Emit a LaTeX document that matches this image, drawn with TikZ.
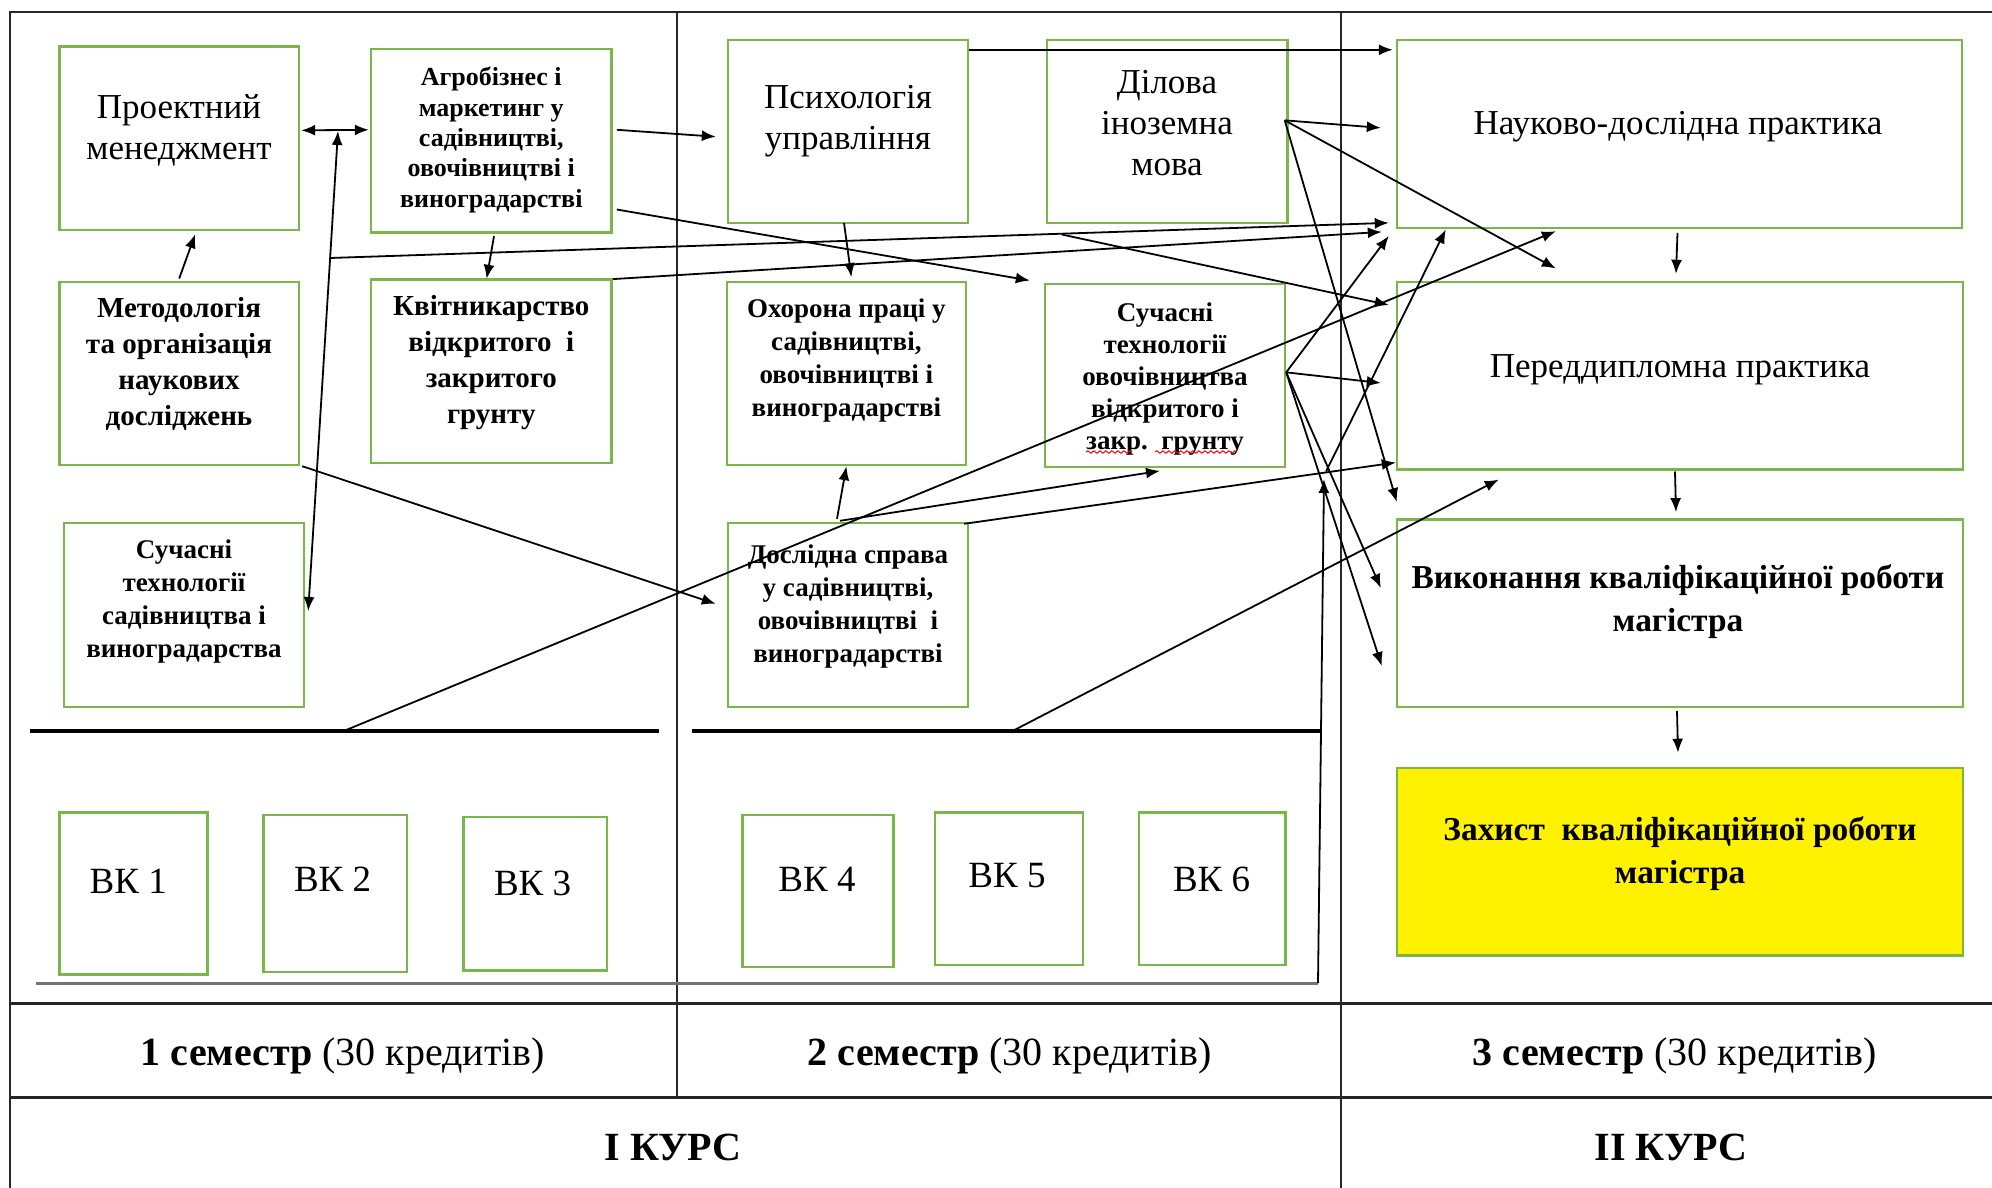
\documentclass[tikz,border=0pt]{standalone}
\usepackage{fontspec}
\setmainfont{Liberation Serif}
\usetikzlibrary{arrows.meta,calc,fit,decorations.pathmorphing}
\definecolor{boxgreen}{RGB}{122,182,72}
\tikzset{
  frame/.style={line width=1pt, black!85},
  rule/.style={line width=2pt, black},
  box/.style={draw=boxgreen, line width=1.2pt, inner sep=0pt},
  txt/.style={align=center, inner sep=0pt},
  reg/.style={font={\fontsize{17.5}{20.5}\selectfont}},
  bsm/.style={font={\bfseries\fontsize{13.5}{16.5}\selectfont}},
  bmd/.style={font={\bfseries\fontsize{14.5}{18}\selectfont}},
  bbig/.style={font={\bfseries\fontsize{16.7}{21.5}\selectfont}},
  vkf/.style={font={\fontsize{18.5}{22}\selectfont}},
  semf/.style={font={\fontsize{20}{24}\selectfont}},
  conn/.style={line width=0.9pt, -{Latex[length=7pt,width=5.5pt]}},
  dconn/.style={line width=0.9pt, {Latex[length=7pt,width=5.5pt]}-{Latex[length=7pt,width=5.5pt]}},
}
\begin{document}
\begin{tikzpicture}[x=0.5pt,y=-0.5pt]
\useasboundingbox (0,0) rectangle (1992,1188);
\fill[white] (0,0) rectangle (1992,1188);

% table frame
\draw[frame, line width=1.2pt] (10,1188) -- (10,12) -- (1992,12);
\draw[frame] (677,12) -- (677,1097);
\draw[frame] (1341,12) -- (1341,1188);
\draw[frame, line width=1.5pt] (10,1003) -- (1992,1003);
\draw[frame, line width=1.5pt] (10,1097) -- (1992,1097);
\draw[rule] (30,731) coordinate (t1a) -- (659,731) coordinate (t1b);
\draw[rule] (692,731) coordinate (t2a) -- (1320,731) coordinate (t2b);

% boxes
\node[box, fit={(59.4,46.7)(299,230)}] (pm) {};
\node[box, fit={(371,49.3)(611.6,232.3)}] (agro) {};
\node[box, fit={(59.4,281.7)(299,465)}] (metod) {};
\node[box, fit={(371,279.3)(611.6,462.7)}] (kvit) {};
\node[box, fit={(63.8,523.2)(304,706.8)}] (ssad) {};
\node[box, fit={(728,40)(968,222.7)}] (psy) {};
\node[box, fit={(1047,40)(1287.5,222.7)}] (dil) {};
\node[box, fit={(726.8,281.7)(966,465)}] (ohor) {};
\node[box, fit={(1045,284)(1285,466.7)}] (sovo) {};
\node[box, fit={(728,523)(968,706.8)}] (dosl) {};
\node[box, fit={(1397,40)(1962,227.7)}] (nauk) {};
\node[box, fit={(1397,281.7)(1963,469.3)}] (pred) {};
\node[box, fit={(1397,519.3)(1963,706.8)}] (vyk) {};
\node[box, fill=yellow, fit={(1397,767.9)(1963,955.4)}] (zah) {};
\node[box, fit={(59.4,812.5)(207.6,974.6)}] (vk1) {};
\node[box, fit={(263.4,815)(407,972)}] (vk2) {};
\node[box, fit={(463.4,816.8)(607,970.4)}] (vk3) {};
\node[box, fit={(742.4,815)(893.3,966.8)}] (vk4) {};
\node[box, fit={(934.8,812.5)(1083,965)}] (vk5) {};
\node[box, fit={(1138.8,812.5)(1285.3,965)}] (vk6) {};

% texts
\node[txt, reg] (pmt) at (179,130) {Проектний\\менеджмент};
\node[txt, bsm, font={\bfseries\fontsize{13}{15.2}\selectfont}] (agrot) at (491.3,140) {Агробізнес і\\маркетинг у\\садівництві,\\овочівництві і\\виноградарстві};
\node[txt, bmd] (metodt) at (179,364) {Методологія\\та організація\\наукових\\досліджень};
\node[txt, bmd] (kvitt) at (491.3,363) {Квітникарство\\відкритого~~і\\закритого\\грунту};
\node[txt, bsm] (ssadt) at (184,601.6) {Сучасні\\технології\\садівництва і\\виноградарства};
\node[txt, reg] (psyt) at (848,121) {Психологія\\управління};
\node[txt, reg] (dilt) at (1167,123) {Ділова\\іноземна\\мова};
\node[txt, bsm] (ohort) at (846.4,361) {Охорона праці у\\садівництві,\\овочівництві і\\виноградарстві};
\node[txt, bsm, font={\bfseries\fontsize{13.5}{16}\selectfont}] (sovot) at (1165,379) {Сучасні\\технології\\овочівництва\\відкритого і\\закр.~~грунту};
\node[txt, bsm] (doslt) at (848,607) {Дослідна справа\\у садівництві,\\овочівництві~~і\\виноградарстві};
\node[txt, reg] (naukt) at (1678,126.7) {Науково-дослідна практика};
\node[txt, reg] (predt) at (1680,370) {Переддипломна практика};
\node[txt, bbig] (vykt) at (1678,602) {Виконання кваліфікаційної роботи\\магістра};
\node[txt, bbig] (zaht) at (1680,853.5) {Захист~~кваліфікаційної роботи\\магістра};
\node[txt, vkf] (vk1t) at (128.3,881) {ВК 1};
\node[txt, vkf] (vk2t) at (332.6,879) {ВК 2};
\node[txt, vkf] (vk3t) at (532.6,883) {ВК 3};
\node[txt, vkf] (vk4t) at (817,879) {ВК 4};
\node[txt, vkf] (vk5t) at (1007,875.7) {ВК 5};
\node[txt, vkf] (vk6t) at (1211.6,879) {ВК 6};
\node[txt, semf] (sem1) at (343,1056) {\textbf{1 семестр} (30 кредитів)};
\node[txt, semf] (sem2) at (1010,1056) {\textbf{2 семестр} (30 кредитів)};
\node[txt, semf] (sem3) at (1675,1056) {\textbf{3 семестр} (30 кредитів)};
\node[txt, semf, font={\bfseries\fontsize{20}{24}\selectfont}] (kurs1) at (673,1147) {І КУРС};
\node[txt, semf, font={\bfseries\fontsize{20}{24}\selectfont}] (kurs2) at (1671,1147) {ІІ КУРС};

% spell-check underline
\draw[red, line width=0.5pt, decorate, decoration={snake, amplitude=0.6pt, segment length=3pt}] (1086,452) -- (1132,452);
\draw[red, line width=0.5pt, decorate, decoration={snake, amplitude=0.6pt, segment length=3pt}] (1155,452) -- (1237,452);

% connectors
\coordinate (m1) at (338,131);
\coordinate (b1) at (329.8,258);
\coordinate (t1) at (343.75,731);
\coordinate (t2) at (1012.5,731);
\coordinate (b2) at (1326,471.5);
\coordinate (d0) at ($(dil.east)+(-4,-11)$);
\coordinate (s0) at ($(sovo.east)+(0,-3)$);
\coordinate (g1) at (36,983);
\coordinate (g2) at (1318,983);
\coordinate (g3) at (1324,479);

\draw[dconn] ($(pm.east)+(1,-8)$) -- ($(agro.west)+(-1,-11)$);
\draw[dconn] ($(ssad.east)+(3,-4)$) -- (m1);
\draw[conn] ($(metod.north)+(0,-2)$) -- ($(pm.south)+(16,3)$);
\draw[conn] (b1) -- ($(nauk.west)+(-7,89)$);
\draw[conn] ($(kvit.north east)+(0,1)$) -- ($(nauk.south west)+(-14,3)$);
\draw[conn] ($(agro.east)+(4,-11)$) -- ($(psy.west)+(-11,5.35)$);
\draw[conn] ($(agro.south east)+(4,-24)$) -- ($(sovo.north west)+(-14,-2.3)$);
\draw[conn] ($(agro.south)+(2.7,2.7)$) -- ($(kvit.north)+(-4.7,0.7)$);
\draw[conn] ($(psy.north east)+(0,11)$) -- ($(nauk.north west)+(-3,11)$);
\draw[conn] ($(psy.south)+(-4,-1)$) -- ($(ohor.north)+(5,-3.4)$);
\draw[conn] (d0) -- ($(nauk.west)+(-15,-6)$);
\draw[conn] (d0) -- ($(pred.north west)+(160,-12)$);
\draw[conn] (d0) -- ($(vyk.north west)+(1,-16)$);
\draw[conn] ($(dil.south west)+(16,10.6)$) -- ($(pred.west)+(-7,-70.5)$);
\draw[conn] (s0) -- ($(pred.west)+(-15,7.5)$);
\draw[conn] (s0) -- ($(nauk.south west)+(-7,7)$);
\draw[conn] (s0) -- ($(vyk.west)+(-15,-25)$);
\draw[conn] (s0) -- ($(vyk.west)+(-14,53)$);
\draw[conn] ($(metod.south east)+(2,0)$) -- ($(dosl.west)+(-11,-11)$);
\draw[conn] (t1) -- ($(nauk.south west)+(160,2.3)$);
\draw[conn] ($(dosl.north)+(-11,-3)$) -- (ohor.south);
\draw[conn] ($(dosl.north)+(-8,-1)$) -- ($(sovo.south)+(-5,3)$);
\draw[conn] ($(dosl.north east)+(-5,2)$) -- ($(pred.south west)+(0,-8)$);
\draw[conn] (b2) -- ($(nauk.south west)+(50,0.5)$);
\draw[conn] (t2) -- ($(pred.south west)+(103,9)$);
\draw[line width=1.5pt, black!55] (g1) -- (g2);
\draw[conn] (g2) -- (g3);
\draw[conn] ($(nauk.south)+(-2,4)$) -- ($(pred.north)+(-4,-6.7)$);
\draw[conn] ($(pred.south)+(-5,1)$) -- ($(vyk.north)+(-4,-6)$);
\draw[conn] ($(vyk.south)+(-3,3)$) -- ($(zah.north)+(-2,-14)$);
\end{tikzpicture}
\end{document}
